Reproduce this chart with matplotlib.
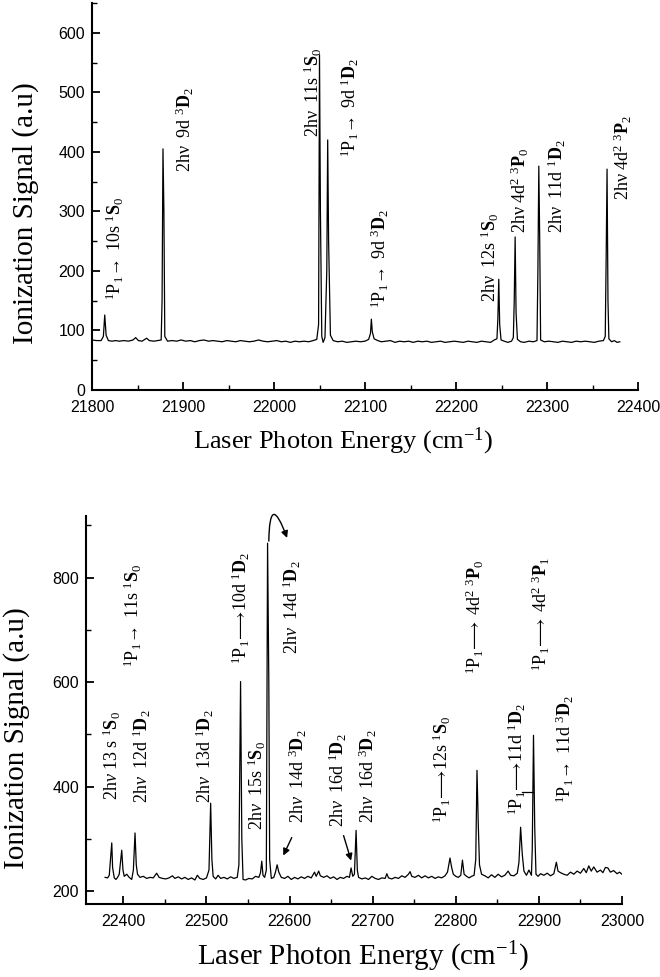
import numpy as np
from matplotlib import pyplot as plt
from matplotlib.ticker import MultipleLocator

plt.rcParams['font.family'] = ['Liberation Serif', 'DejaVu Serif']
plt.rcParams['mathtext.fontset'] = 'custom'
plt.rcParams['mathtext.rm'] = 'Liberation Serif'
plt.rcParams['mathtext.it'] = 'Liberation Serif:italic'
plt.rcParams['mathtext.bf'] = 'Liberation Serif:bold'

# upper spectrum (21800 - 22380 cm-1)
top_x = [21800, 21805, 21810, 21812.5, 21814, 21815.5, 21818, 21822, 21826, 21830,
         21835, 21840, 21845, 21848, 21851, 21855, 21860, 21863, 21868, 21872,
         21876, 21877, 21878, 21879, 21880, 21883, 21888, 21893, 21898, 21903,
         21908, 21913, 21918, 21923, 21928, 21933, 21938, 21943, 21948, 21953,
         21958, 21963, 21968, 21973, 21978, 21983, 21988, 21993, 21998, 22003,
         22008, 22013, 22018, 22023, 22028, 22033, 22038, 22043, 22047, 22049,
         22050, 22051, 22052.5, 22054, 22056, 22058, 22059, 22060, 22062, 22065,
         22070, 22075, 22080, 22085, 22090, 22095, 22100, 22104, 22106, 22107,
         22108, 22110, 22114, 22118, 22123, 22128, 22133, 22138, 22143, 22148,
         22153, 22158, 22163, 22168, 22173, 22178, 22183, 22188, 22193, 22198,
         22203, 22208, 22213, 22218, 22223, 22228, 22233, 22238, 22242, 22245,
         22246, 22247, 22248, 22249.5, 22253, 22257, 22261, 22263, 22264, 22265,
         22266, 22267.5, 22271, 22275, 22280, 22285, 22289, 22290, 22291, 22292,
         22293, 22297, 22302, 22307, 22312, 22317, 22322, 22327, 22332, 22337,
         22342, 22347, 22352, 22357, 22362, 22364, 22365, 22366, 22367, 22368,
         22371, 22374, 22377, 22380]
top_y = [84, 83, 83, 90, 126, 92, 83, 82, 83, 82,
         83, 82, 84, 88, 83, 82, 87, 83, 82, 83,
         84, 150, 405, 300, 90, 82, 83, 82, 84, 82,
         83, 81, 83, 84, 82, 83, 82, 81, 83, 82,
         81, 83, 82, 81, 82, 84, 82, 81, 82, 83,
         81, 82, 80, 82, 81, 82, 81, 83, 85, 110,
         563, 300, 90, 80, 88, 200, 420, 250, 92, 83,
         81, 82, 80, 81, 82, 81, 82, 85, 95, 119,
         98, 86, 83, 81, 82, 83, 80, 82, 81, 82,
         80, 82, 81, 82, 80, 81, 82, 80, 81, 82,
         81, 80, 82, 81, 80, 82, 81, 80, 84, 86,
         120, 186, 110, 84, 82, 80, 82, 88, 150, 257,
         130, 85, 81, 80, 82, 81, 83, 200, 376, 250,
         84, 81, 82, 81, 80, 82, 81, 80, 82, 81,
         82, 81, 80, 82, 83, 90, 220, 371, 150, 86,
         81, 83, 80, 81]

# lower spectrum (22378 - 23000 cm-1)
bot_x = [22378, 22381, 22383, 22384.5, 22386, 22387, 22389, 22391, 22393, 22395,
         22396.5, 22398, 22399.5, 22401, 22404, 22407, 22410, 22412, 22414, 22415.5,
         22417, 22420, 22424, 22428, 22432, 22436, 22440, 22443, 22447, 22451,
         22455, 22459, 22462, 22466, 22470, 22474, 22478, 22482, 22486, 22489,
         22492, 22496, 22500, 22503, 22505, 22506.5, 22508, 22511, 22514, 22517,
         22521, 22525, 22529, 22533, 22537, 22539, 22541, 22542.5, 22544, 22547,
         22551, 22555, 22559, 22563, 22565, 22566.5, 22568, 22570, 22572, 22573.5,
         22575, 22576, 22578, 22581, 22583, 22585, 22587, 22590, 22594, 22598,
         22602, 22606, 22610, 22614, 22618, 22622, 22626, 22630, 22632, 22635,
         22637, 22641, 22645, 22649, 22653, 22657, 22661, 22665, 22669, 22672,
         22674, 22676, 22678, 22680, 22681.5, 22683, 22687, 22691, 22695, 22699,
         22703, 22707, 22711, 22715, 22717, 22719, 22723, 22727, 22731, 22735,
         22739, 22743, 22745, 22747, 22751, 22755, 22759, 22763, 22767, 22771,
         22775, 22779, 22783, 22787, 22790, 22793, 22795, 22797, 22800, 22803,
         22806, 22808, 22810, 22813, 22816, 22819, 22822, 22824, 22825.5, 22827,
         22828.5, 22831, 22835, 22839, 22843, 22847, 22851, 22855, 22859, 22863,
         22866, 22870, 22874, 22876, 22878, 22880, 22882, 22885, 22888, 22891,
         22892, 22893.5, 22895, 22896.5, 22899, 22902, 22906, 22910, 22914, 22918,
         22921, 22923, 22926, 22930, 22934, 22938, 22942, 22946, 22950, 22954,
         22957, 22960, 22963, 22966, 22970, 22974, 22977, 22980, 22983, 22986,
         22990, 22994, 22997, 23000]
bot_y = [226, 225, 230, 260, 292, 245, 225, 222, 226, 232,
         255, 278, 240, 228, 232, 226, 222, 240, 311, 250,
         232, 226, 228, 224, 226, 225, 234, 226, 224, 223,
         225, 229, 224, 227, 223, 226, 222, 225, 221, 230,
         224, 222, 225, 240, 368, 260, 228, 223, 230, 224,
         226, 223, 227, 224, 226, 250, 601, 300, 222, 221,
         224, 223, 228, 226, 235, 257, 230, 226, 240, 866,
         600, 260, 224, 226, 236, 250, 236, 226, 224, 228,
         222, 226, 223, 227, 224, 228, 225, 236, 228, 238,
         229, 226, 229, 224, 227, 222, 226, 224, 228, 226,
         244, 228, 232, 316, 240, 226, 223, 225, 222, 228,
         224, 222, 225, 224, 233, 225, 223, 226, 224, 229,
         226, 232, 237, 228, 226, 230, 225, 229, 225, 228,
         224, 227, 225, 229, 236, 263, 245, 232, 228, 226,
         230, 259, 232, 228, 225, 228, 230, 260, 431, 330,
         250, 232, 229, 225, 231, 226, 232, 227, 230, 238,
         230, 229, 234, 255, 322, 270, 238, 230, 240, 230,
         280, 498, 320, 232, 228, 233, 230, 234, 229, 233,
         255, 238, 235, 232, 230, 236, 232, 238, 234, 243,
         235, 248, 238, 246, 236, 240, 235, 245, 244, 236,
         239, 233, 236, 232]

top_labels = [
    r"${}^1\mathrm{P}_1\!\rightarrow\ \mathrm{10s}\ {}^1\mathbf{S}_0$",
    r"$\mathrm{2h\nu\ \ 9d}\ {}^3\mathbf{D}_2$",
    r"$\mathrm{2h\nu\ \ 11s}\ {}^1\mathbf{S}_0$",
    r"${}^1\mathrm{P}_1\!\rightarrow\ \mathrm{9d}\ {}^1\mathbf{D}_2$",
    r"${}^1\mathrm{P}_1\!\rightarrow\ \mathrm{9d}\ {}^3\mathbf{D}_2$",
    r"$\mathrm{2h\nu\ \ 12s}\ {}^1\mathbf{S}_0$",
    r"$\mathrm{2h\nu\ 4d^2}\ {}^3\mathbf{P}_0$",
    r"$\mathrm{2h\nu\ \ 11d}\ {}^1\mathbf{D}_2$",
    r"$\mathrm{2h\nu\ 4d^2}\ {}^3\mathbf{P}_2$",
]
top_lab_x = [21825, 21902, 22043, 22084, 22116, 22237, 22270, 22311, 22384]
top_lab_y = [151, 366, 425, 392, 138, 148, 264, 264, 319]

bot_labels = [
    r"$\mathrm{2h}\nu\ \mathrm{13\ s}\ {}^1\mathbf{S}_0$",
    r"${}^1\mathrm{P}_1\!\rightarrow\ \mathrm{11s}\ {}^1\mathbf{S}_0$",
    r"$\mathrm{2h}\nu\ \ \mathrm{12d}\ {}^1\mathbf{D}_2$",
    r"$\mathrm{2h}\nu\ \ \mathrm{13d}\ {}^1\mathbf{D}_2$",
    r"${}^1\mathrm{P}_1\!\longrightarrow\!\mathrm{10d}\ {}^1\mathbf{D}_2$",
    r"$\mathrm{2h}\nu\ \ \mathrm{15s}\ {}^1\mathbf{S}_0$",
    r"$\mathrm{2h}\nu\ \ \mathrm{14d}\ {}^1\mathbf{D}_2$",
    r"$\mathrm{2h}\nu\ \ \mathrm{14d}\ {}^3\mathbf{D}_2$",
    r"$\mathrm{2h}\nu\ \ \mathrm{16d}\ {}^1\mathbf{D}_2$",
    r"$\mathrm{2h}\nu\ \ \mathrm{16d}\ {}^3\mathbf{D}_2$",
    r"${}^1\mathrm{P}_1\!\longrightarrow\!\mathrm{12s}\ {}^1\mathbf{S}_0$",
    r"${}^1\mathrm{P}_1\!\longrightarrow\ \mathrm{4d^2}\ {}^3\mathbf{P}_0$",
    r"${}^1\mathrm{P}_1\!\longrightarrow\!\mathrm{11d}\ {}^1\mathbf{D}_2$",
    r"${}^1\mathrm{P}_1\!\longrightarrow\ \mathrm{4d^2}\ {}^3\mathbf{P}_1$",
    r"${}^1\mathrm{P}_1\!\rightarrow\ \mathrm{11d}\ {}^3\mathbf{D}_2$",
]
bot_lab_x = [22386, 22411, 22422, 22498, 22542, 22561, 22603, 22610,
             22658, 22694, 22783, 22823, 22873, 22903, 22931]
bot_lab_y = [374, 628, 368, 368, 635, 316, 654, 330,
             322, 330, 330, 616, 345, 622, 368]

fig = plt.figure(figsize=(6.6, 9.77), dpi=100)
ax1 = fig.add_axes([92 / 660, 1 - 390 / 977, 546 / 660, 387 / 977])
ax2 = fig.add_axes([86 / 660, 1 - 904 / 977, 536 / 660, 388 / 977])

for ax in (ax1, ax2):
    ax.spines['top'].set_visible(False)
    ax.spines['right'].set_visible(False)
    ax.spines['left'].set_linewidth(1.5)
    ax.spines['bottom'].set_linewidth(1.5)
    ax.tick_params(which='major', direction='in', length=6, width=1.3, pad=5, labelsize=11.5)
    ax.tick_params(axis='x', which='major', pad=7)
    ax.tick_params(which='minor', direction='in', length=3.5, width=1.0)
    ax.xaxis.set_major_locator(MultipleLocator(100))
    ax.xaxis.set_minor_locator(MultipleLocator(50))

ax1.set_xlabel(r"Laser Photon Energy (cm$^{-1}$)", fontsize=19, labelpad=8, x=0.46)
ax1.set_ylabel("Ionization Signal (a.u)", fontsize=21, labelpad=14, y=0.457)
ax2.set_xlabel(r"Laser Photon Energy (cm$^{-1}$)", fontsize=21, labelpad=8, x=0.517)
ax2.set_ylabel("Ionization Signal (a.u)", fontsize=21, labelpad=16, y=0.428)

ax1.plot(top_x, top_y, color='black', lw=0.9)
ax1.set_xlim(21800, 22400)
ax1.set_ylim(0, 650)
ax1.yaxis.set_major_locator(MultipleLocator(100))
ax1.yaxis.set_minor_locator(MultipleLocator(50))
for s, x, y in zip(top_labels, top_lab_x, top_lab_y):
    ax1.text(x, y, s, rotation=90, ha='center', va='bottom', fontsize=13)

ax2.plot(bot_x, bot_y, color='black', lw=0.9)
ax2.set_xlim(22355, 23000)
ax2.set_ylim(175, 918)
ax2.yaxis.set_major_locator(MultipleLocator(200))
ax2.yaxis.set_minor_locator(MultipleLocator(100))
for s, x, y in zip(bot_labels, bot_lab_x, bot_lab_y):
    ax2.text(x, y, s, rotation=90, ha='center', va='bottom', fontsize=13)

arrow = dict(arrowstyle='-|>', color='black', lw=1.0, mutation_scale=10)
ax2.annotate('', xy=(22591, 263), xytext=(22604, 307), arrowprops=arrow)
ax2.annotate('', xy=(22675, 253), xytext=(22664, 311), arrowprops=arrow)
ax2.annotate('', xy=(22597, 876), xytext=(22575, 870), annotation_clip=False,
             arrowprops=dict(arrowstyle='-|>', color='black', lw=1.0, mutation_scale=10,
                             shrinkA=0, shrinkB=0, connectionstyle='arc3,rad=-2.7'))
ax2.plot([22880, 22893], [389, 389], color='black', lw=0.9)

for lab in ax1.get_xticklabels() + ax1.get_yticklabels() + ax2.get_xticklabels() + ax2.get_yticklabels():
    lab.set_fontfamily('Liberation Sans')

fig.savefig('out.png', dpi=100)
